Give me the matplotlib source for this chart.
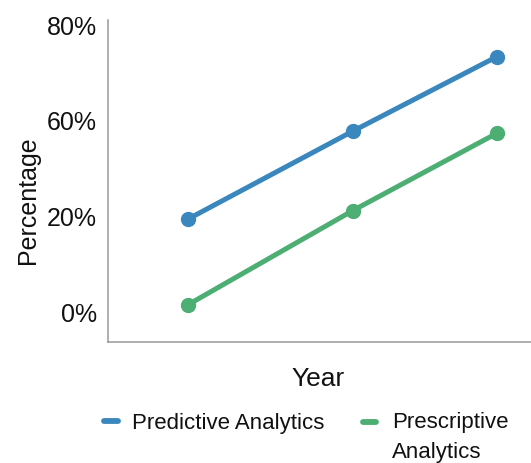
import matplotlib
matplotlib.use("Agg")
import matplotlib.pyplot as plt
from matplotlib.lines import Line2D

# Data
years = [2010, 2018, 2025]
predictive = [19.2, 37.6, 53.2]
prescriptive = [1.3, 21.0, 37.2]
series_names = ["Predictive Analytics", "Prescriptive\nAnalytics"]
y_tick_pos = [0, 20, 40, 60]
y_tick_labels = ["0%", "20%", "60%", "80%"]

blue = "#3a87be"
green = "#4cae73"
ink = "#111111"

plt.rcParams["font.family"] = ["Liberation Sans", "DejaVu Sans"]

W, H = 531, 464
fig = plt.figure(figsize=(W / 100, H / 100), dpi=100)
ax = fig.add_axes([0.204, 0.2614, 0.796, 0.694])

ax.plot(years, predictive, color=blue, lw=3.6, marker="o", ms=10,
        solid_capstyle="round")
ax.plot(years, prescriptive, color=green, lw=3.6, marker="o", ms=10,
        solid_capstyle="round")

ax.set_xlim(2006.15, 2026.64)
ax.set_ylim(-6.4, 60.9)
ax.set_xticks([])
ax.set_yticks(y_tick_pos)
ax.set_yticklabels(y_tick_labels)
ax.tick_params(axis="y", length=0, pad=8, labelsize=18, labelcolor=ink)

for s in ["top", "right"]:
    ax.spines[s].set_visible(False)
for s in ["left", "bottom"]:
    ax.spines[s].set_color("#999999")
    ax.spines[s].set_linewidth(1.1)

ax.set_xlabel("Year", fontsize=19, color=ink, va="baseline")
ax.xaxis.set_label_coords(0.496, -0.1335)
ax.set_ylabel("Percentage", fontsize=18, color=ink, va="center", ha="center")
ax.yaxis.set_label_coords(-0.19, 0.443)

# Legend below the plot: short rounded swatches followed by the series names
def px(x, y):
    return x / W, 1 - y / H

# (colour, name, swatch x0, swatch x1, swatch y, text x, last-line baseline y)
legend_items = [
    (blue, series_names[0], 104.2, 118.2, 421.7, 131.7, 429.0),
    (green, series_names[1], 362.5, 375.5, 422.7, 392.0, 458.0),
]
for color, name, x0, x1, yh, xt, yb in legend_items:
    (fx0, fy), (fx1, _) = px(x0, yh), px(x1, yh)
    fig.add_artist(Line2D([fx0, fx1], [fy, fy], transform=fig.transFigure,
                          color=color, lw=4.2, solid_capstyle="round"))
    tx, ty = px(xt, yb)
    fig.text(tx, ty, name, fontsize=16, color=ink, ha="left", va="baseline",
             linespacing=1.55)

fig.savefig("out.png", dpi=100, facecolor="white")
